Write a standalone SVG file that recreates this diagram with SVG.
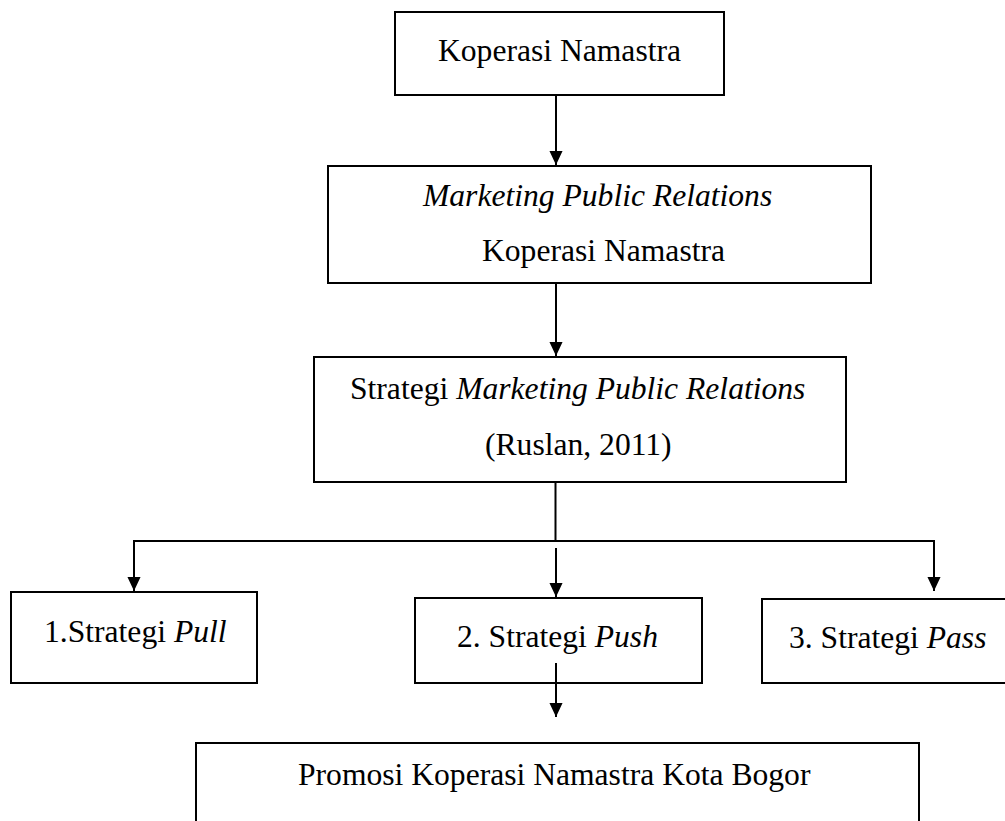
<svg xmlns="http://www.w3.org/2000/svg" width="1005" height="821" viewBox="0 0 1005 821">
<style>
.box{fill:#fff;stroke:#000;stroke-width:2}
.ln{fill:none;stroke:#000;stroke-width:2}
text{font-family:"Liberation Serif","Times New Roman",serif;font-size:31.6px;fill:#000}
.i{font-style:italic}
</style>
<defs>
<marker id="ah" markerUnits="userSpaceOnUse" markerWidth="14" markerHeight="15" refX="15" refY="7" orient="auto" viewBox="0 0 15 14">
<path d="M0,0 L15,7 L0,14 z" fill="#000"/>
</marker>
</defs>
<rect width="1005" height="821" fill="#fff"/>
<g id="n1">
<rect class="box" x="395" y="12" width="329" height="83"/>
<text x="438" y="61">Koperasi Namastra</text>
</g>
<g id="n2">
<rect class="box" x="328" y="166" width="543" height="117"/>
<text x="423" y="206" class="i">Marketing Public Relations</text>
<text x="482" y="261">Koperasi Namastra</text>
</g>
<g id="n3">
<rect class="box" x="314" y="357" width="532" height="125"/>
<text x="350" y="399">Strategi <tspan class="i">Marketing Public Relations</tspan></text>
<text x="485" y="455">(Ruslan, 2011)</text>
</g>
<g id="n4">
<rect class="box" x="11" y="592" width="246" height="91"/>
<text x="44" y="642">1.Strategi <tspan class="i">Pull</tspan></text>
</g>
<g id="n5">
<rect class="box" x="415" y="598" width="287" height="85"/>
<text x="457" y="647">2. Strategi <tspan class="i">Push</tspan></text>
</g>
<g id="n6">
<rect class="box" x="762" y="599" width="260" height="84"/>
<text x="789" y="648">3. Strategi <tspan class="i">Pass</tspan></text>
</g>
<g id="n7">
<rect class="box" x="196" y="743" width="723" height="100"/>
<text x="298" y="785">Promosi Koperasi Namastra Kota Bogor</text>
</g>
<g id="connectors">
<path class="ln" d="M556,96 V165" marker-end="url(#ah)"/>
<path class="ln" d="M556,284 V356" marker-end="url(#ah)"/>
<path class="ln" d="M555.5,483 V541 M133,541 H935"/>
<path class="ln" d="M134,541 V591" marker-end="url(#ah)"/>
<path class="ln" d="M934,541 V591" marker-end="url(#ah)"/>
<path class="ln" d="M556,548 V597" marker-end="url(#ah)"/>
<path class="ln" d="M556,663 V717" marker-end="url(#ah)"/>
</g>
</svg>
